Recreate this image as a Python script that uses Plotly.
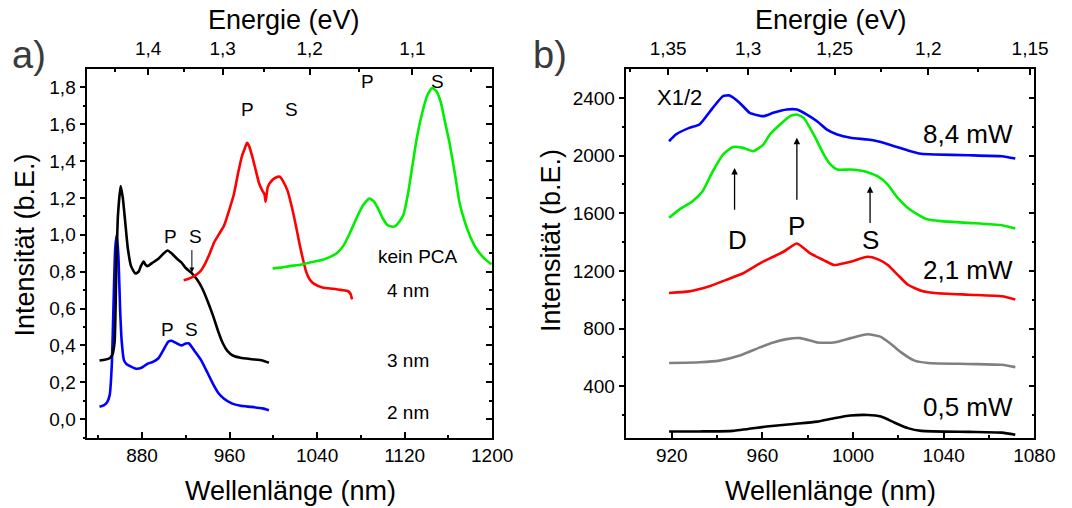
import plotly.graph_objects as go

# ---------------- Panel a data ----------------
a_blue_nm = [841.2, 845, 848, 850.5, 852.5, 854, 855.5, 857, 858.5, 860, 861.5, 863.5, 866, 870, 875, 880, 885, 890, 895, 900, 904, 907, 912, 916, 920, 923, 928, 934, 940, 945, 950, 955, 962, 970, 980, 990, 996]
a_blue_int = [0.067, 0.075, 0.09, 0.13, 0.3, 0.62, 0.92, 1.0, 0.88, 0.6, 0.42, 0.32, 0.298, 0.285, 0.273, 0.28, 0.30, 0.31, 0.33, 0.38, 0.42, 0.425, 0.41, 0.40, 0.41, 0.41, 0.37, 0.32, 0.25, 0.19, 0.14, 0.11, 0.085, 0.072, 0.066, 0.058, 0.048]

a_black_nm = [841.2, 846, 850.5, 853, 855, 856.5, 858, 860.5, 862.5, 865, 867, 870, 874, 877, 879, 881.5, 883, 885, 890, 895, 900, 903.3, 907, 912, 916, 920, 925, 930, 935, 940, 945, 950, 954, 958, 963, 970, 980, 990, 996]
a_black_int = [0.318, 0.322, 0.33, 0.35, 0.42, 0.8, 1.1, 1.265, 1.2, 1.05, 0.93, 0.83, 0.79, 0.80, 0.83, 0.855, 0.84, 0.83, 0.85, 0.87, 0.90, 0.915, 0.90, 0.87, 0.85, 0.82, 0.795, 0.76, 0.71, 0.64, 0.56, 0.47, 0.41, 0.37, 0.345, 0.333, 0.325, 0.318, 0.306]

a_red_nm = [918.1, 922, 928, 933, 937.4, 942, 946, 950, 955, 960, 964, 968, 971.5, 974, 976, 978, 981, 984, 987, 990, 992, 993, 995, 998, 1002, 1006, 1009, 1013, 1017, 1021, 1024, 1027, 1030, 1033, 1037, 1045, 1055, 1063, 1068, 1070.5, 1072]
a_red_int = [0.754, 0.76, 0.777, 0.80, 0.84, 0.90, 0.96, 1.0, 1.05, 1.14, 1.22, 1.34, 1.43, 1.47, 1.50, 1.48, 1.42, 1.35, 1.28, 1.24, 1.22, 1.18, 1.26, 1.29, 1.31, 1.315, 1.29, 1.24, 1.15, 1.04, 0.95, 0.87, 0.80, 0.76, 0.735, 0.714, 0.707, 0.70, 0.695, 0.68, 0.65]

a_green_nm = [999.4, 1007, 1015, 1025, 1033.5, 1045, 1052, 1058, 1064, 1070, 1076, 1082, 1087.8, 1092, 1096, 1100, 1104, 1108, 1111, 1115, 1119, 1123, 1127, 1131, 1136, 1141, 1145, 1149, 1153, 1157, 1161, 1166, 1170, 1175, 1180, 1185, 1190, 1195, 1199.4]
a_green_int = [0.818, 0.822, 0.83, 0.838, 0.85, 0.865, 0.88, 0.90, 0.94, 1.01, 1.09, 1.16, 1.197, 1.18, 1.14, 1.09, 1.055, 1.045, 1.046, 1.07, 1.11, 1.22, 1.37, 1.52, 1.66, 1.76, 1.796, 1.78, 1.72, 1.61, 1.50, 1.33, 1.18, 1.07, 0.99, 0.93, 0.89, 0.86, 0.84]

a_x_ticks = [880, 960, 1040, 1120, 1200]
a_y_ticks = [0.0, 0.2, 0.4, 0.6, 0.8, 1.0, 1.2, 1.4, 1.6, 1.8]
a_y_labels = ["0,0", "0,2", "0,4", "0,6", "0,8", "1,0", "1,2", "1,4", "1,6", "1,8"]
a_e_ticks = [1.4, 1.3, 1.2, 1.1]
a_e_labels = ["1,4", "1,3", "1,2", "1,1"]
a_e_minor = [1.45, 1.35, 1.25, 1.15, 1.05]

# ---------------- Panel b data ----------------
b_nm_blue = [918.8, 921.8, 927.7, 932.2, 938.1, 942.6, 945.5, 950, 954.4, 960.4, 964.8, 970.7, 975.2, 979.6, 984.1, 988.5, 993, 998.9, 1006.4, 1010.8, 1018.2, 1024.2, 1030.1, 1036, 1050.9, 1065.7, 1071.6]
b_int_blue = [2099, 2146, 2192, 2215, 2331, 2412, 2416, 2365, 2296, 2273, 2296, 2319, 2319, 2284, 2238, 2180, 2146, 2123, 2111, 2099, 2065, 2035, 2012, 2007, 2002, 1995, 1979]

b_nm_green = [918.8, 923.3, 929.2, 933.6, 938.1, 942.6, 947, 951.5, 955.9, 960.4, 963.3, 967.8, 972.2, 975.2, 978.2, 982.6, 987.1, 990, 993, 998.9, 1004.9, 1010.8, 1015.3, 1019.7, 1024.2, 1028.6, 1033.1, 1039, 1050.9, 1065.7, 1071.6]
b_int_green = [1568, 1625, 1683, 1753, 1891, 2007, 2060, 2053, 2030, 2076, 2146, 2215, 2273, 2284, 2261, 2146, 2007, 1938, 1903, 1903, 1891, 1857, 1799, 1706, 1637, 1591, 1556, 1545, 1533, 1517, 1494]

b_nm_red = [918.8, 927.7, 936.6, 944, 951.5, 958.9, 964.8, 969.3, 975.2, 981.1, 987, 991.5, 998.9, 1006.4, 1010.8, 1015.3, 1019.7, 1024.2, 1030.1, 1036, 1050.9, 1065.7, 1071.6]
b_int_red = [1047, 1058, 1093, 1138, 1184, 1253, 1298, 1333, 1390, 1321, 1275, 1241, 1264, 1298, 1282, 1241, 1173, 1104, 1063, 1047, 1035, 1024, 1001]

b_nm_gray = [918.8, 932.2, 941, 950, 958.9, 964.8, 970.7, 976.7, 984.1, 991.5, 998.9, 1006.4, 1012.3, 1016.7, 1021.2, 1027.1, 1033.1, 1050.9, 1065.7, 1071.6]
b_int_gray = [562, 567, 578, 613, 670, 704, 727, 734, 704, 704, 734, 761, 743, 693, 635, 578, 562, 555, 549, 533]

b_nm_black = [918.8, 932.2, 947, 961.8, 973.7, 984.1, 991.5, 998.9, 1006.4, 1012.3, 1018.2, 1024.2, 1030.1, 1050.9, 1065.7, 1071.6]
b_int_black = [87, 87, 91, 121, 139, 155, 178, 197, 201, 190, 149, 110, 91, 84, 79, 64]

b_x_ticks = [920, 960, 1000, 1040, 1080]
b_y_ticks = [400, 800, 1200, 1600, 2000, 2400]
b_e_ticks = [1.35, 1.3, 1.25, 1.2, 1.15]
b_e_labels = ["1,35", "1,3", "1,25", "1,2", "1,15"]
b_e_minor = [1.375, 1.325, 1.275, 1.225, 1.175]

HC = 1239.84  # eV*nm
FONT = "Liberation Sans, Arial, sans-serif"
W, H = 1072, 508

# pixel layout
ax_l, ax_r = 89, 502
bx_l, bx_r = 639, 1055
top_px, bot_px = 69, 437.5
a_dom = [ax_l / W, ax_r / W]
b_dom = [bx_l / W, bx_r / W]
y_dom = [(H - bot_px) / H, (H - top_px) / H]

fig = go.Figure()
LW = 2.6
for xs, ys, c in [(a_blue_nm, a_blue_int, "#0000FF"), (a_black_nm, a_black_int, "#000000"),
                  (a_red_nm, a_red_int, "#FF0000"), (a_green_nm, a_green_int, "#00EE00")]:
    fig.add_trace(go.Scatter(x=xs, y=ys, mode="lines", line=dict(color=c, width=LW, shape="spline", smoothing=0.5),
                             xaxis="x", yaxis="y", showlegend=False, hoverinfo="skip"))
for xs, ys, c in [(b_nm_blue, b_int_blue, "#0000FF"), (b_nm_green, b_int_green, "#00EE00"),
                  (b_nm_red, b_int_red, "#FF0000"), (b_nm_gray, b_int_gray, "#808080"),
                  (b_nm_black, b_int_black, "#000000")]:
    fig.add_trace(go.Scatter(x=xs, y=ys, mode="lines", line=dict(color=c, width=LW, shape="spline", smoothing=0.5),
                             xaxis="x3", yaxis="y2", showlegend=False, hoverinfo="skip"))

tickfont = dict(family=FONT, size=19, color="black")
common = dict(showline=True, linecolor="black", linewidth=1.5, showgrid=False, zeroline=False,
              tickcolor="black", tickwidth=1.5, ticklen=6, tickfont=tickfont)

def minor(vals, side):
    return dict(tickmode="array", tickvals=vals, ticks=side, ticklen=3, tickcolor="black", tickwidth=1.5)

a_range = [830, 1200]
a_yrange = [-0.1, 1.9]
b_range = [900, 1080]
b_yrange = [45, 2600]
a_y_minor = [round(-0.1 + 0.2 * i, 2) for i in range(10)]
b_y_minor = [200, 600, 1000, 1400, 1800, 2200]

fig.update_layout(
    width=W, height=H, margin=dict(l=0, r=0, t=0, b=0),
    paper_bgcolor="white", plot_bgcolor="white",
    xaxis=dict(domain=a_dom, anchor="y", range=a_range, tickmode="array", tickvals=a_x_ticks,
               ticktext=[str(v) for v in a_x_ticks], ticks="inside",
               minor=minor([840, 920, 1000, 1080, 1160], "inside"), **common),
    xaxis2=dict(overlaying="x", side="top", anchor="y", range=a_range, tickmode="array",
                tickvals=[HC / e for e in a_e_ticks], ticktext=a_e_labels, ticks="inside", ticklabelstandoff=5,
                minor=minor([HC / e for e in a_e_minor], "inside"), **common),
    yaxis=dict(domain=y_dom, anchor="x", range=a_yrange, tickmode="array", tickvals=a_y_ticks,
               ticktext=a_y_labels, ticks="outside", minor=minor(a_y_minor, "outside"), **common),
    yaxis3=dict(overlaying="y", side="right", anchor="x", range=a_yrange, tickmode="array", tickvals=a_y_ticks,
                showticklabels=False, ticks="inside", minor=minor(a_y_minor, "inside"), **common),
    xaxis3=dict(domain=b_dom, anchor="y2", range=b_range, tickmode="array", tickvals=b_x_ticks,
                ticktext=[str(v) for v in b_x_ticks], ticks="inside",
                minor=minor([940, 980, 1020, 1060], "inside"), **common),
    xaxis4=dict(overlaying="x3", side="top", anchor="y2", range=b_range, tickmode="array",
                tickvals=[HC / e for e in b_e_ticks], ticktext=b_e_labels, ticks="inside", ticklabelstandoff=5,
                minor=minor([HC / e for e in b_e_minor], "inside"), **common),
    yaxis2=dict(domain=y_dom, anchor="x3", range=b_yrange, tickmode="array", tickvals=b_y_ticks,
                ticktext=[str(v) for v in b_y_ticks], ticks="outside", minor=minor(b_y_minor, "outside"), **common),
    yaxis4=dict(overlaying="y2", side="right", anchor="x3", range=b_yrange, tickmode="array", tickvals=b_y_ticks,
                showticklabels=False, ticks="inside", minor=minor(b_y_minor, "inside"), **common),
)

# invisible traces to activate overlay axes
fig.add_trace(go.Scatter(x=[None], y=[None], xaxis="x2", yaxis="y3", showlegend=False))
fig.add_trace(go.Scatter(x=[None], y=[None], xaxis="x4", yaxis="y4", showlegend=False))

ann = []
def txt(x, y, s, size, xref, yref, xanchor="center", yanchor="middle", color="black", angle=0):
    ann.append(dict(x=x, y=y, text=s, xref=xref, yref=yref, showarrow=False, xanchor=xanchor,
                    yanchor=yanchor, textangle=angle, font=dict(family=FONT, size=size, color=color)))

def px(xp, yp):
    return xp / W, (H - yp) / H

# axis titles
TS = 27
for cx, cy, s, ang in [(296, 491, "Wellenlänge (nm)", 0), (847, 491, "Wellenlänge (nm)", 0),
                       (290, 20, "Energie (eV)", 0), (848, 20, "Energie (eV)", 0),
                       (26, 245, "Intensität (b.E.)", -90), (562, 240, "Intensität (b.E.)", -90)]:
    xx, yy = px(cx, cy)
    txt(xx, yy, s, TS, "paper", "paper", angle=ang)

xx, yy = px(30, 55); txt(xx, yy, "a)", 38, "paper", "paper", color="#3a3a3a")
xx, yy = px(561, 55); txt(xx, yy, "b)", 38, "paper", "paper", color="#3a3a3a")

# panel a labels
LS = 19
for x, y, s in [(976, 1.68, "P"), (1016.4, 1.68, "S"), (1086.2, 1.83, "P"), (1149.8, 1.83, "S"),
                (906.4, 0.99, "P"), (929, 0.99, "S"), (903.3, 0.486, "P"), (925.6, 0.486, "S"),
                (1132, 0.88, "kein PCA"), (1123.4, 0.696, "4 nm"), (1123.4, 0.318, "3 nm"), (1123.4, 0.036, "2 nm")]:
    txt(x, y, s, LS, "x", "y")
ann.append(dict(x=925.6, y=0.795, ax=925.6, ay=0.925, xref="x", yref="y", axref="x", ayref="y",
                showarrow=True, arrowhead=2, arrowsize=1, arrowwidth=1, arrowcolor="black", text=""))

# panel b labels
txt(912.5, 2400, "X1/2", 22, "x3", "y2", xanchor="left")
txt(1071.5, 2146, "8,4 mW", 26, "x3", "y2", xanchor="right")
txt(1071.5, 1207, "2,1 mW", 26, "x3", "y2", xanchor="right")
txt(1071.5, 258, "0,5 mW", 26, "x3", "y2", xanchor="right")
for x, y, s in [(949.2, 1417, "D"), (975.2, 1510, "P"), (1007.5, 1417, "S")]:
    txt(x, y, s, 26, "x3", "y2")
for x, y0, y1 in [(947.7, 1614, 1914), (975.2, 1683, 2123), (1007.5, 1521, 1787)]:
    ann.append(dict(x=x, y=y1, ax=x, ay=y0, xref="x3", yref="y2", axref="x3", ayref="y2",
                    showarrow=True, arrowhead=2, arrowsize=1, arrowwidth=1.3, arrowcolor="black", text=""))

fig.update_layout(annotations=ann)
fig.write_html("out.html")
